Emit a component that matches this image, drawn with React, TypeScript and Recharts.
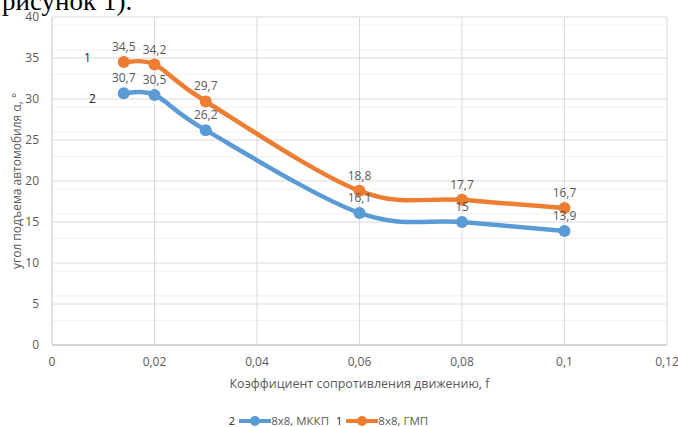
import React from 'react';
import { LineChart, Line, XAxis, YAxis, CartesianGrid, LabelList } from 'recharts';

const fValues = [0.014, 0.02, 0.03, 0.06, 0.08, 0.1];
const mkkpValues = [30.7, 30.5, 26.2, 16.1, 15, 13.9];
const gmpValues = [34.5, 34.2, 29.7, 18.8, 17.7, 16.7];
const xTicks = [0, 0.02, 0.04, 0.06, 0.08, 0.1, 0.12];
const yTicks = [0, 5, 10, 15, 20, 25, 30, 35, 40];
const yMinorTicks = Array.from({ length: 41 }, (_, i) => i).filter((v) => v % 5 !== 0);

const seriesMkkp = '8x8, МККП';
const seriesGmp = '8x8, ГМП';

const data = fValues.map((f, i) => ({ f, mkkp: mkkpValues[i], gmp: gmpValues[i] }));

const BLUE = '#5B9BD5';
const ORANGE = '#ED7D31';
const FONT = '"Open Sans", "Noto Sans", sans-serif';

const fmt = (v: any) => String(v).replace('.', ',');

// Excel-like smoothed line (Catmull-Rom based Bezier)
const excelCurve: any = (context: any) => {
  let pts: number[][] = [];
  return {
    areaStart() {},
    areaEnd() {},
    lineStart() {
      pts = [];
    },
    point(x: number, y: number) {
      pts.push([+x, +y]);
    },
    lineEnd() {
      if (!pts.length) return;
      context.moveTo(pts[0][0], pts[0][1]);
      for (let i = 0; i < pts.length - 1; i++) {
        const p0 = pts[i - 1] || pts[i];
        const p1 = pts[i];
        const p2 = pts[i + 1];
        const p3 = pts[i + 2] || pts[i + 1];
        const c1x = p1[0] + (p2[0] - p0[0]) / 6;
        const c1y = p1[1] + (p2[1] - p0[1]) / 6;
        const c2x = p2[0] - (p3[0] - p1[0]) / 6;
        const c2y = p2[1] - (p3[1] - p1[1]) / 6;
        context.bezierCurveTo(c1x, c1y, c2x, c2y, p2[0], p2[1]);
      }
    },
  };
};

const labelStyle = { fontSize: 12, fill: '#595959', fontFamily: FONT };

const LegendItem = ({ num, color, name }: { num: string; color: string; name: string }) => (
  <div style={{ display: 'flex', alignItems: 'center' }}>
    <span style={{ color: '#222', fontSize: 11, marginRight: 4 }}>{num}</span>
    <svg width={32} height={12}>
      <line x1={0} y1={6} x2={32} y2={6} stroke={color} strokeWidth={4} />
      <circle cx={16} cy={6} r={5} fill={color} />
    </svg>
    <span style={{ color: '#595959', fontSize: 11.5, marginRight: 7 }}>{name}</span>
  </div>
);

export default function App() {
  return (
    <div style={{ position: 'fixed', left: 0, top: 0, width: 678, height: 427, background: '#fff', overflow: 'hidden', fontFamily: FONT }}>
      <div
        style={{
          position: 'absolute',
          left: 2,
          top: -14,
          fontFamily: '"Liberation Serif", serif',
          fontSize: 27,
          lineHeight: '30px',
          color: '#000',
          whiteSpace: 'nowrap',
        }}
      >
        рисунок 1).
      </div>
      <LineChart width={678} height={427} data={data} margin={{ top: 17, right: 11, left: 0, bottom: 52 }}>
        <CartesianGrid stroke="#f0f0f0" horizontalValues={yMinorTicks} vertical={false} />
        <CartesianGrid stroke="#d9d9d9" />
        <XAxis
          dataKey="f"
          type="number"
          domain={[0, 0.12]}
          ticks={xTicks}
          tickFormatter={fmt}
          height={30}
          tickSize={0}
          tickMargin={12}
          axisLine={{ stroke: '#bfbfbf' }}
          tick={{ fontSize: 12, fill: '#595959', fontFamily: FONT }}
          label={{
            value: 'Коэффициент сопротивления движению, f',
            position: 'insideBottom',
            offset: -13,
            style: { fontSize: 12.5, fill: '#595959', fontFamily: FONT },
          }}
        />
        <YAxis
          type="number"
          domain={[0, 40]}
          ticks={yTicks}
          width={52}
          tickSize={0}
          tickMargin={13}
          axisLine={{ stroke: '#d9d9d9' }}
          tick={{ fontSize: 12, fill: '#595959', fontFamily: FONT }}
          label={{
            value: 'угол подъема  автомобиля α, °',
            angle: -90,
            position: 'insideLeft',
            offset: 17,
            style: { fontSize: 12, fill: '#595959', fontFamily: FONT, textAnchor: 'middle' },
          }}
        />
        <Line
          dataKey="mkkp"
          name={seriesMkkp}
          type={excelCurve}
          stroke={BLUE}
          strokeWidth={4.5}
          dot={{ r: 6, fill: BLUE, stroke: BLUE, strokeWidth: 0 }}
          isAnimationActive={false}
        >
          <LabelList dataKey="mkkp" position="top" offset={11} formatter={fmt} style={labelStyle} />
        </Line>
        <Line
          dataKey="gmp"
          name={seriesGmp}
          type={excelCurve}
          stroke={ORANGE}
          strokeWidth={4.5}
          dot={{ r: 6, fill: ORANGE, stroke: ORANGE, strokeWidth: 0 }}
          isAnimationActive={false}
        >
          <LabelList dataKey="gmp" position="top" offset={11} formatter={fmt} style={labelStyle} />
        </Line>
      </LineChart>
      <div style={{ position: 'absolute', left: 84, top: 49, fontSize: 12, color: '#222' }}>1</div>
      <div style={{ position: 'absolute', left: 89, top: 90, fontSize: 12, color: '#222' }}>2</div>
      <div
        style={{
          position: 'absolute',
          left: 0,
          top: 413,
          width: 678,
          display: 'flex',
          justifyContent: 'center',
          paddingRight: 14,
          boxSizing: 'border-box',
        }}
      >
        <LegendItem num="2" color={BLUE} name={seriesMkkp} />
        <LegendItem num="1" color={ORANGE} name={seriesGmp} />
      </div>
    </div>
  );
}
